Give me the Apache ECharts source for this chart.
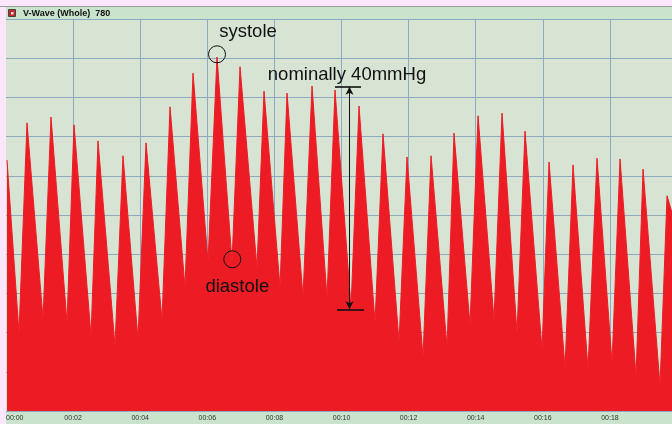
<!DOCTYPE html>
<html>
<head>
<meta charset="utf-8">
<script src="https://cdn.jsdelivr.net/npm/echarts@6/dist/echarts.min.js"></script>
<style>
html,body{margin:0;padding:0;background:#fbe6fb;}
#c{width:672px;height:424px;}
</style>
</head>
<body>
<div id="c"></div>
<script>
// Time in seconds (peaks and troughs of the pressure wave)
const beatTimes = [0.030,0.387,0.626,1.103,1.341,1.818,2.027,2.534,2.742,3.249,3.487,3.934,4.173,4.650,4.888,5.335,5.574,6.021,6.289,6.736,6.975,7.481,7.690,8.167,8.376,8.852,9.121,9.568,9.806,10.283,10.522,10.999,11.237,11.714,11.952,12.429,12.668,13.145,13.353,13.830,14.069,14.545,14.784,15.231,15.469,15.976,16.185,16.662,16.900,17.347,17.615,18.063,18.301,18.778,18.987,19.493,19.702,19.851];
// Pressure in grid units (0-10)
const beatValues = [6.40,1.99,7.35,2.35,7.50,2.25,7.30,1.91,6.89,1.66,6.51,1.84,6.84,2.32,7.76,3.16,8.62,3.80,9.03,3.80,8.78,3.65,8.16,3.16,8.11,2.91,8.29,2.88,8.19,2.63,7.78,2.25,7.07,1.76,6.48,1.38,6.51,1.63,7.09,2.19,7.53,2.32,7.60,1.99,7.14,1.56,6.35,1.10,6.28,1.07,6.45,1.22,6.43,0.89,6.17,0.64,5.49,5.05];
const xTicks = ['00:00','00:02','00:04','00:06','00:08','00:10','00:12','00:14','00:16','00:18'];
const titleText = 'V-Wave (Whole)  780';
// Annotations in data coordinates [t, value]
const systoleMark = [6.289, 9.10];
const diastoleMark = [6.745, 3.87];
const arrowTop = [10.238, 8.273];
const arrowBottom = [10.238, 2.594];
const capTop = [[9.806, 8.273], [10.581, 8.273]];
const capBottom = [[9.866, 2.594], [10.671, 2.594]];
const annotTexts = ['systole', 'diastole', 'nominally 40mmHg'];

const seriesData = beatTimes.map((t, i) => [t, beatValues[i]]);
const FONT = 'Liberation Sans, Arial, sans-serif';
const chart = echarts.init(document.getElementById('c'), null, {renderer: 'canvas'});
const ink = '#111';
const gridColor = '#8eaac0';

chart.setOption({
  animation: false,
  backgroundColor: 'transparent',
  grid: {left: 6, right: 0, top: 19, bottom: 13, show: true, backgroundColor: '#d7e3d3', borderWidth: 0},
  graphic: [
    {type: 'rect', shape: {x: 6, y: 6, width: 666, height: 13}, style: {fill: '#c9e3cd', stroke: null}, z: -10},
    {type: 'line', shape: {x1: 0, y1: 6.5, x2: 672, y2: 6.5}, style: {stroke: '#9a9a9a', lineWidth: 1}, z: -9},
    {type: 'rect', shape: {x: 6, y: 411, width: 666, height: 13}, style: {fill: '#c9e3cd'}, z: -10},
    {type: 'rect', shape: {x: 8.5, y: 9.5, width: 7, height: 7}, style: {fill: '#c42a2f', stroke: '#444', lineWidth: 1}, z: 5},
    {type: 'rect', shape: {x: 11, y: 12, width: 2.5, height: 2.5}, style: {fill: '#f6d6d6'}, z: 6},
    {type: 'text', x: 23, y: 13.2, style: {text: titleText, font: 'bold 9px ' + FONT, fill: '#111', verticalAlign: 'middle'}, z: 5}
  ],
  xAxis: {
    type: 'value', min: 0, max: 19.85, interval: 2,
    axisLine: {show: false}, axisTick: {show: false},
    splitLine: {show: true, showMinLine: false, lineStyle: {color: gridColor, width: 1}},
    axisLabel: {
      show: true, margin: 4, fontSize: 7, color: '#333', fontFamily: FONT,
      showMaxLabel: false, alignMinLabel: 'left',
      formatter: v => { const k = Math.round(v / 2); return Math.abs(v - k * 2) < 1e-6 ? (xTicks[k] || '') : ''; }
    }
  },
  yAxis: {
    type: 'value', min: 0, max: 10, interval: 1,
    axisLine: {show: false}, axisTick: {show: false}, axisLabel: {show: false},
    splitLine: {show: true, lineStyle: {color: gridColor, width: 1}}
  },
  series: [{
    type: 'line', data: seriesData, showSymbol: false, symbol: 'none', sampling: null,
    lineStyle: {color: '#ed1c24', width: 1},
    itemStyle: {color: '#ed1c24'},
    areaStyle: {color: '#ed1c24', opacity: 1},
    markPoint: {
      silent: true, animation: false,
      data: [
        {coord: systoleMark, symbol: 'circle', symbolSize: 17,
         itemStyle: {color: 'rgba(0,0,0,0)', borderColor: ink, borderWidth: 1},
         label: {show: true, formatter: annotTexts[0], position: 'inside', offset: [31, -22.6], fontSize: 18.5, color: ink, fontFamily: FONT}},
        {coord: diastoleMark, symbol: 'circle', symbolSize: 17,
         itemStyle: {color: 'rgba(0,0,0,0)', borderColor: ink, borderWidth: 1},
         label: {show: true, formatter: annotTexts[1], position: 'inside', offset: [5, 27.4], fontSize: 18.5, color: ink, fontFamily: FONT}},
        {coord: arrowTop, symbol: 'circle', symbolSize: 0,
         itemStyle: {color: 'rgba(0,0,0,0)'},
         label: {show: true, formatter: annotTexts[2], position: 'inside', offset: [-2.5, -12.2], fontSize: 18.5, color: ink, fontFamily: FONT}}
      ]
    },
    markLine: {
      silent: true, animation: false, symbol: 'none',
      label: {show: false},
      lineStyle: {color: ink, width: 1, type: 'solid'},
      data: [
        [{coord: arrowTop, symbol: 'arrow', symbolSize: [6, 8]}, {coord: arrowBottom, symbol: 'arrow', symbolSize: [6, 8]}],
        [{coord: capTop[0], symbol: 'none', lineStyle: {width: 1.6}}, {coord: capTop[1], symbol: 'none'}],
        [{coord: capBottom[0], symbol: 'none', lineStyle: {width: 1.6}}, {coord: capBottom[1], symbol: 'none'}]
      ]
    }
  }]
});
</script>
</body>
</html>
